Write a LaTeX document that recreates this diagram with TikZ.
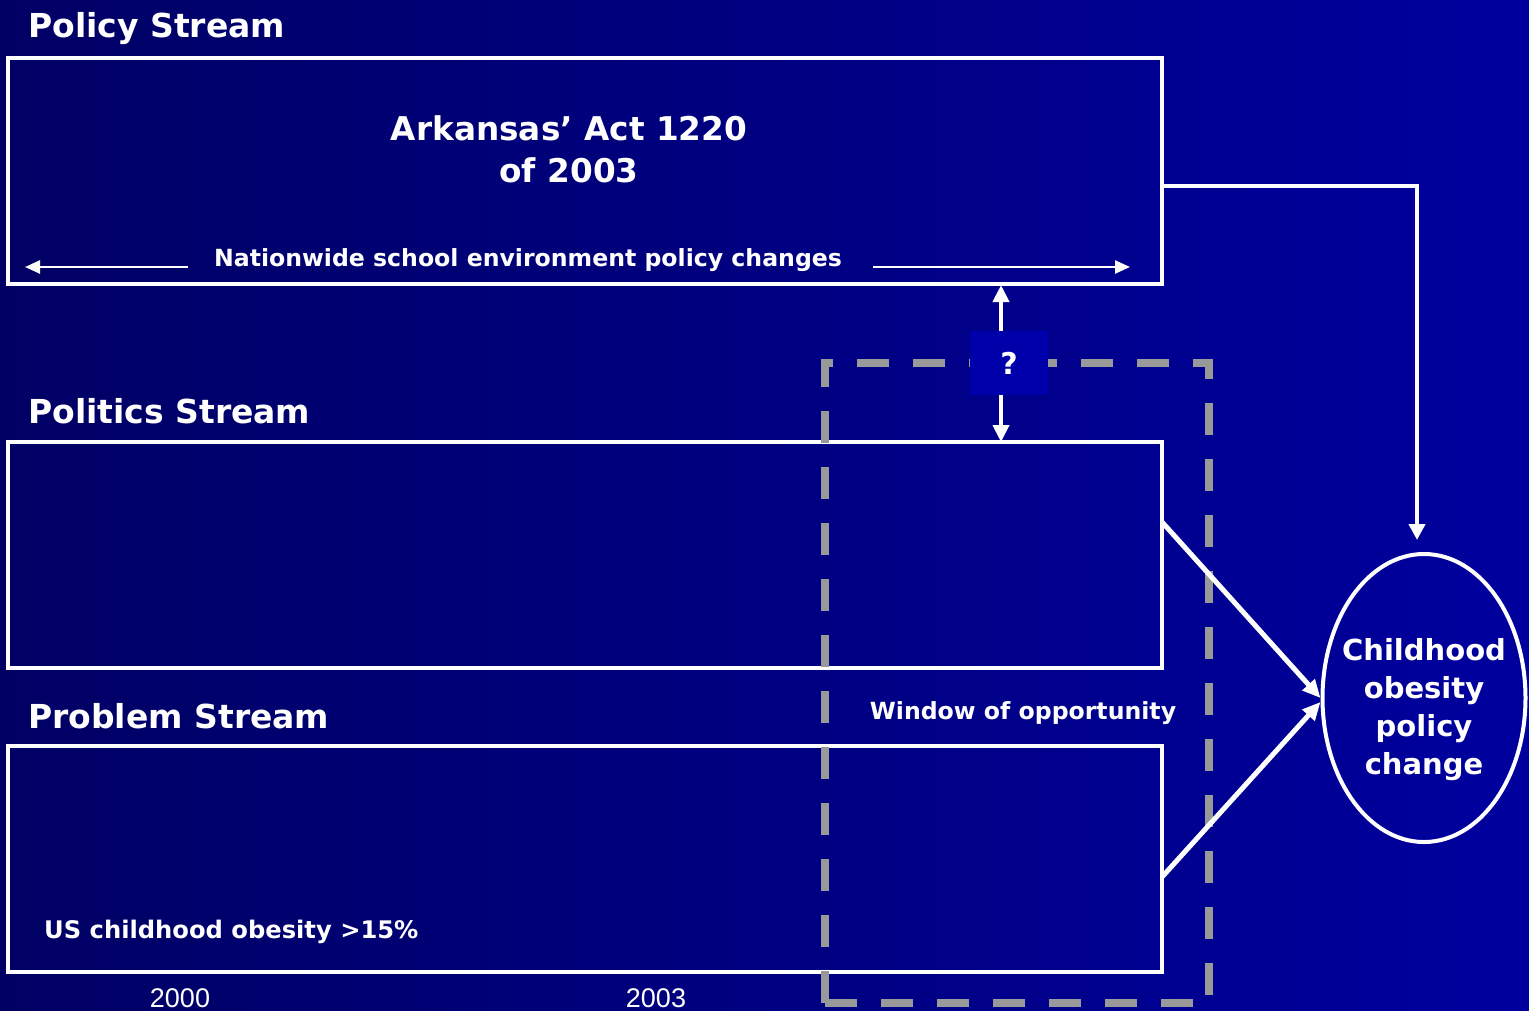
\documentclass[tikz,border=0pt]{standalone}
\usepackage{fontspec}
\setmainfont{DejaVu Sans}
\newfontfamily\narrowfont{Liberation Sans}
\usetikzlibrary{arrows.meta,shapes.geometric}
\definecolor{bgL}{RGB}{0,0,100}
\definecolor{bgR}{RGB}{0,0,158}
\definecolor{qbox}{RGB}{0,0,170}
\definecolor{dashgray}{RGB}{153,153,153}
\tikzset{
  streambox/.style={draw=white, line width=4pt, minimum width=1154pt, minimum height=226pt, anchor=north west, inner sep=0pt, outer sep=0pt},
  title/.style={text=white, font=\fontsize{33}{36}\selectfont\bfseries, anchor=west, inner sep=0pt},
  label/.style={text=white, font=\fontsize{23.6}{26}\selectfont\bfseries, inner sep=0pt},
  yearlabel/.style={text=white, font=\narrowfont\fontsize{27}{30}\selectfont, inner sep=0pt},
  connector/.style={draw=white, line width=4pt, -{Triangle[length=16pt,width=16pt]}},
  thinarrow/.style={draw=white, line width=2.5pt, -{Triangle[length=15pt,width=13pt]}},
  feed/.style={draw=white, line width=5pt, -{Triangle[length=18pt,width=16pt]}},
}
\begin{document}
\begin{tikzpicture}[x=1pt,y=-1pt]
\useasboundingbox (0,0) rectangle (1529,1010);
\shade[left color=bgL, right color=bgR] (0,0) rectangle (1529,1010);

% stream boxes
\node[streambox] (policy) at (8,58) {};
\node[streambox] (politics) at (8,442) {};
\node[streambox] (problem) at (8,746) {};

% titles
\node[title] (tpolicy) at (28,29) {Policy Stream};
\node[title] (tpolitics) at (28,411) {Politics Stream};
\node[title] (tproblem) at (28,716) {Problem Stream};

% policy box content
\node[text=white, font=\fontsize{32.7}{42}\selectfont\bfseries, align=center, inner sep=0pt] (act) at (569,149) {Arkansas’ Act 1220\\of 2003};
\node[label] (nation) at (528,260) {Nationwide school environment policy changes};
\coordinate (nl1) at (188,267);
\coordinate (nl2) at (25,267);
\coordinate (nr1) at (873,267);
\coordinate (nr2) at (1130,267);
\draw[thinarrow] (nl1) -- (nl2);
\draw[thinarrow] (nr1) -- (nr2);

% problem text
\node[text=white, font=\fontsize{24.2}{28}\selectfont\bfseries, anchor=west, inner sep=0pt] (usobes) at (44,932) {US childhood obesity >15\%};

% years
\node[yearlabel] (y2000) at (180,998) {2000};
\node[yearlabel] (y2003) at (656,998) {2003};

% window of opportunity
\node[draw=dashgray, line width=8pt, dash pattern=on 32pt off 24pt, minimum width=384pt, minimum height=640pt, anchor=north west, inner sep=0pt, outer sep=0pt] (window) at (825,363) {};
\node[label] (wtext) at (1023,713) {Window of opportunity};

% outcome
\node[draw=white, line width=4pt, ellipse, minimum width=203pt, minimum height=288pt, inner sep=0pt] (outcome) at (1424,698) {};
\node[text=white, align=center, inner sep=0pt, font=\fontsize{29}{38}\selectfont\bfseries] (outtext) at (1424,710) {Childhood\\obesity\\policy\\change};

% connectors
\coordinate (pc) at (1162,186);
\coordinate (bend) at (1417,186);
\coordinate (ptip) at (1417,540);
\draw[connector] (pc) -- (bend) -- (ptip);
\coordinate (polout) at (1162,522);
\coordinate (probout) at (1162,877);
\draw[feed] (polout) -- (outcome.west);
\draw[feed] (probout) -- ([yshift=-4pt]outcome.west);

% question box and double arrow
\node[fill=qbox, minimum width=78pt, minimum height=64pt, inner sep=0pt, text=white, font=\fontsize{30}{34}\selectfont\bfseries] (q) at (1009,363) {?};
\coordinate (up) at (1001,285);
\coordinate (down) at (1001,442);
\draw[connector, -{Triangle[length=17pt,width=16pt]}] (q.north -| up) -- (up);
\draw[connector, -{Triangle[length=17pt,width=16pt]}] (q.south -| down) -- (down);
\end{tikzpicture}
\end{document}
